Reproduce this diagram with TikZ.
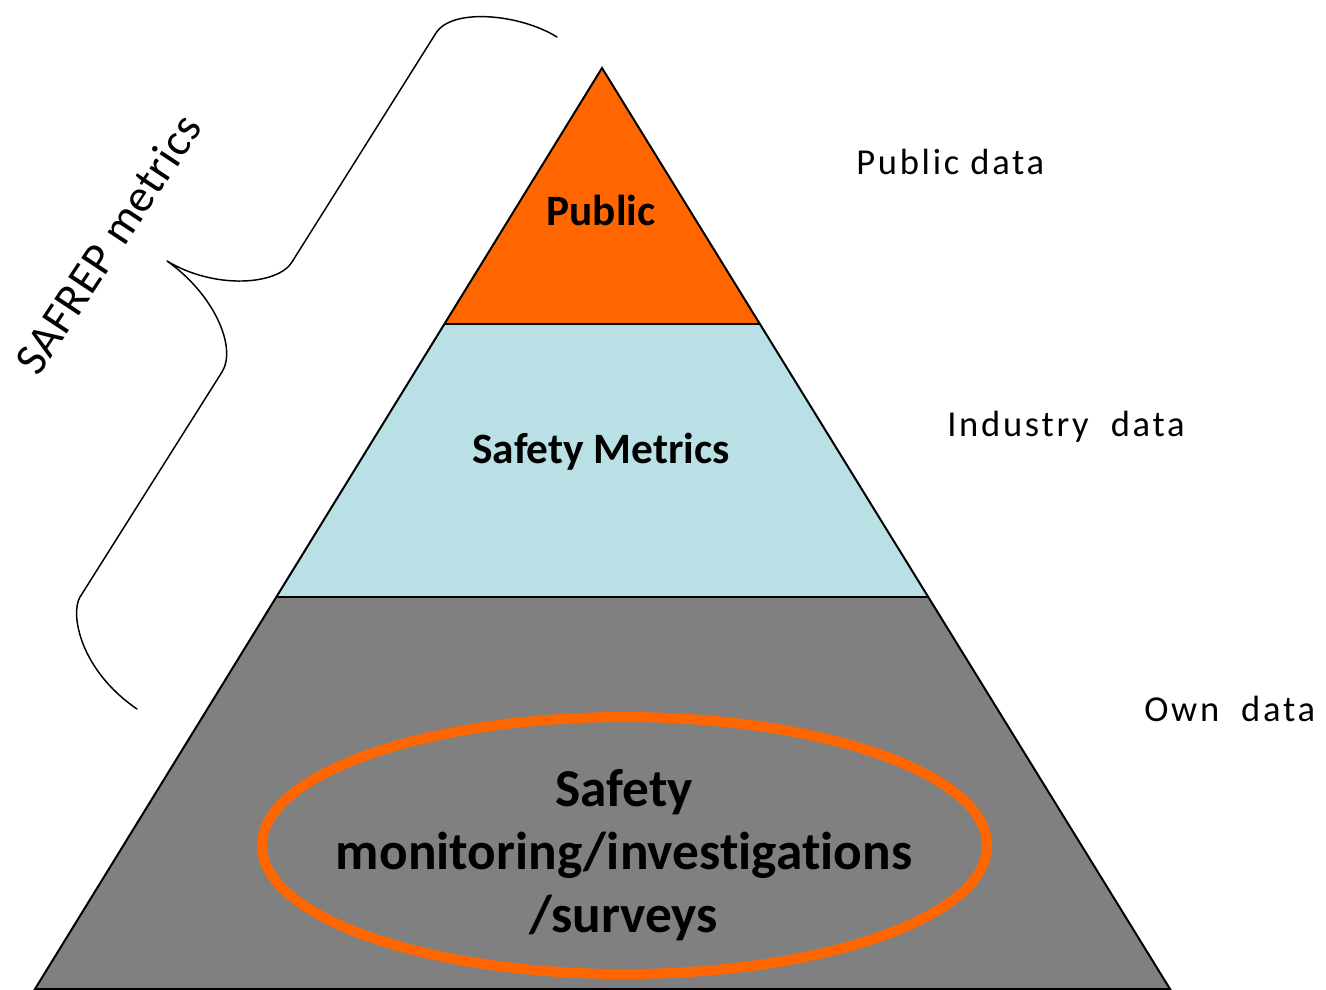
\documentclass[tikz,border=0pt]{standalone}
\usepackage{fontspec}
\setmainfont[RawFeature={-liga}]{Carlito}
\newfontfamily\spacedfont[LetterSpace=7.5,RawFeature={-liga}]{Carlito}
\newfontfamily\bracefont[LetterSpace=2,RawFeature={-liga}]{Carlito}
\definecolor{porange}{HTML}{FF6600}
\definecolor{pblue}{HTML}{B9E0E4}
\definecolor{pgray}{HTML}{808080}
\begin{document}
\begin{tikzpicture}[x=0.75pt,y=-0.75pt,
  layer/.style={draw=black,line width=1.5pt,line join=miter},
  sidelabel/.style={font=\spacedfont\fontsize{27.4}{32}\selectfont,anchor=west,inner sep=0pt},
  layerlabel/.style={font=\bfseries\fontsize{32.5}{38}\selectfont,inner sep=0pt},
  bracestyle/.style={draw=black,line width=1.1pt,line cap=round,line join=round}]
\useasboundingbox (0,0) rectangle (1326,989);
% pyramid vertices
\coordinate (A) at (602,68);
\coordinate (L1) at (444,324);
\coordinate (R1) at (760,324);
\coordinate (L2) at (276,597);
\coordinate (R2) at (928,597);
\coordinate (BL) at (35,989);
\coordinate (BR) at (1170,989);
% layers
\fill[pgray] (L2) -- (R2) -- (BR) -- (BL) -- cycle;
\fill[pblue] (L1) -- (R1) -- (R2) -- (L2) -- cycle;
\fill[porange] (A) -- (R1) -- (L1) -- cycle;
\draw[layer] (A) -- (BR) -- (BL) -- cycle;
\draw[layer] (L1) -- (R1);
\draw[layer] (L2) -- (R2);
% ellipse
\draw[porange,line width=7.5pt] (624.5,845.5) ellipse [x radius=362.5, y radius=128.5];
% layer texts
\node[layerlabel] (public) at (601,210) {Public};
\node[layerlabel] (metrics) at (601,452) {Safety Metrics};
\node[font=\bfseries\fontsize{40}{47.25}\selectfont,align=center,inner sep=0pt] (own) at (624,855)
  {Safety\\monitoring/investigations\\/surveys};
% side labels
\node[sidelabel] (pd) at (856,162) {Public data};
\node[sidelabel] (id) at (947,427) {Industry\ \ data};
\node[sidelabel] (od) at (1144,709) {Own\ \ data};
% brace
\coordinate (b0) at (557,37);
\coordinate (b1) at (436,33);
\coordinate (b2) at (292,262);
\coordinate (tip) at (167,261);
\coordinate (b3) at (222,372);
\coordinate (b4) at (80,597);
\coordinate (b5) at (137,709);
\draw[bracestyle] (b0) .. controls (520,14) and (452,7.5) .. (b1) -- (b2)
  .. controls (278,285) and (215,290) .. (tip)
  .. controls (215,295) and (237,348) .. (b3) -- (b4)
  .. controls (70,614) and (80,670) .. (b5);
\node[font=\bracefont\fontsize{34.5}{40}\selectfont,rotate=56.5,inner sep=0pt] (safrep) at (108,244) {SAFREP metrics};
\end{tikzpicture}
\end{document}
